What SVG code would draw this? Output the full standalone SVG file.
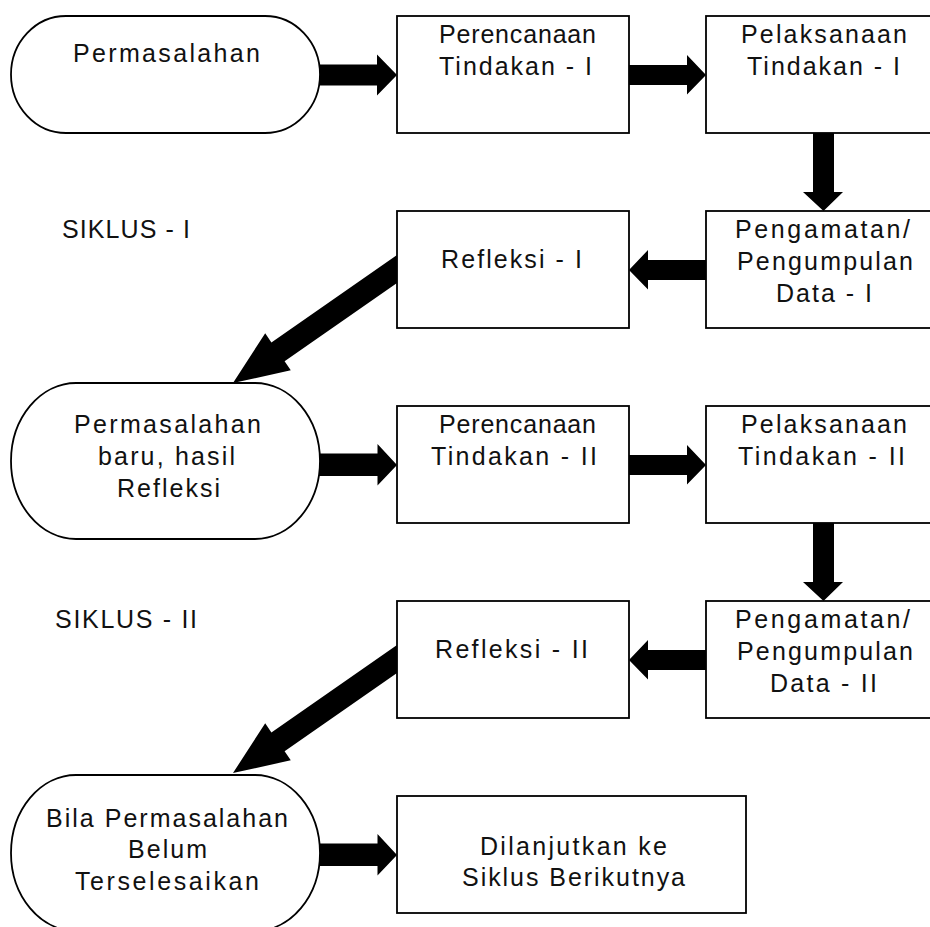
<svg xmlns="http://www.w3.org/2000/svg" width="930" height="927" viewBox="0 0 930 927">
<style>
.n{fill:#fff;stroke:#000;stroke-width:1.8}
.t{font-family:"Liberation Sans",Arial,sans-serif;font-size:25px;fill:#111}
.c{fill:#000;stroke:none}
</style>
<rect width="930" height="927" fill="#fff"/>
<g id="connectors">
<polygon class="c" points="315,64.5 377,64.5 377,54.5 397,75 377,95.5 377,85.5 315,85.5"/>
<polygon class="c" points="625,65 687,65 687,55 706,75 687,94.5 687,85 625,85"/>
<polygon class="c" points="813,130 834,130 834,192 843,192 823.5,211 803,192 813,192"/>
<polygon class="c" points="710,260 648,260 648,250 629,270 648,289.5 648,280 710,280"/>
<polygon class="c" points="397,255 271.4,342.4 265.2,333.3 233,383 290.8,370.3 284.6,361.2 397,283"/>
<polygon class="c" points="315,453.5 377.5,453.5 377.5,444 397,465 377.5,485.5 377.5,476 315,476"/>
<polygon class="c" points="625,455 687,455 687,445 706,465 687,484.5 687,475 625,475"/>
<polygon class="c" points="813,520 834,520 834,582 843,582 823.5,601 803,582 813,582"/>
<polygon class="c" points="710,650 648,650 648,640 629,660 648,679.5 648,670 710,670"/>
<polygon class="c" points="397,645 271.4,732.4 265.2,723.3 233,773 290.8,760.3 284.6,751.2 397,673"/>
<polygon class="c" points="315,843.5 377.5,843.5 377.5,834 397,855 377.5,875.5 377.5,866 315,866"/>
</g>
<g id="permasalahan">
<rect class="n" x="11" y="16" width="309" height="117" rx="55" ry="58.5"/>
<text class="t" x="73" y="62" textLength="187" lengthAdjust="spacing">Permasalahan</text>
</g>
<g id="perencanaan1">
<rect class="n" x="397" y="16" width="232" height="117"/>
<text class="t" x="439" y="43" textLength="157" lengthAdjust="spacing">Perencanaan</text>
<text class="t" x="439" y="75" textLength="153" lengthAdjust="spacing">Tindakan - I</text>
</g>
<g id="pelaksanaan1">
<rect class="n" x="706" y="16" width="232" height="117"/>
<text class="t" x="741" y="43" textLength="166" lengthAdjust="spacing">Pelaksanaan</text>
<text class="t" x="747" y="75" textLength="153" lengthAdjust="spacing">Tindakan - I</text>
</g>
<g id="pengamatan1">
<rect class="n" x="706" y="211" width="232" height="117"/>
<text class="t" x="735" y="238" textLength="175" lengthAdjust="spacing">Pengamatan/</text>
<text class="t" x="737" y="270" textLength="176" lengthAdjust="spacing">Pengumpulan</text>
<text class="t" x="776" y="302" textLength="96" lengthAdjust="spacing">Data - I</text>
</g>
<g id="refleksi1">
<rect class="n" x="397" y="211" width="232" height="117"/>
<text class="t" x="441" y="268" textLength="141" lengthAdjust="spacing">Refleksi - I</text>
</g>
<g id="siklus1">
<text class="t" x="62" y="238" textLength="128" lengthAdjust="spacing">SIKLUS - I</text>
</g>
<g id="permasalahan-baru">
<rect class="n" x="11" y="383" width="309" height="156" rx="65" ry="78"/>
<text class="t" x="74" y="433" textLength="187" lengthAdjust="spacing">Permasalahan</text>
<text class="t" x="98" y="465" textLength="137" lengthAdjust="spacing">baru, hasil</text>
<text class="t" x="117" y="497" textLength="103" lengthAdjust="spacing">Refleksi</text>
</g>
<g id="perencanaan2">
<rect class="n" x="397" y="406" width="232" height="117"/>
<text class="t" x="439" y="433" textLength="157" lengthAdjust="spacing">Perencanaan</text>
<text class="t" x="431" y="465" textLength="166" lengthAdjust="spacing">Tindakan - II</text>
</g>
<g id="pelaksanaan2">
<rect class="n" x="706" y="406" width="232" height="117"/>
<text class="t" x="741" y="433" textLength="166" lengthAdjust="spacing">Pelaksanaan</text>
<text class="t" x="738" y="465" textLength="167" lengthAdjust="spacing">Tindakan - II</text>
</g>
<g id="pengamatan2">
<rect class="n" x="706" y="601" width="232" height="117"/>
<text class="t" x="735" y="628" textLength="175" lengthAdjust="spacing">Pengamatan/</text>
<text class="t" x="737" y="660" textLength="176" lengthAdjust="spacing">Pengumpulan</text>
<text class="t" x="770" y="692" textLength="107" lengthAdjust="spacing">Data - II</text>
</g>
<g id="refleksi2">
<rect class="n" x="397" y="601" width="232" height="117"/>
<text class="t" x="435" y="658" textLength="153" lengthAdjust="spacing">Refleksi - II</text>
</g>
<g id="siklus2">
<text class="t" x="55" y="628" textLength="142" lengthAdjust="spacing">SIKLUS - II</text>
</g>
<g id="bila">
<rect class="n" x="11" y="775" width="309" height="156" rx="65" ry="78"/>
<text class="t" x="46" y="827" textLength="242" lengthAdjust="spacing">Bila Permasalahan</text>
<text class="t" x="128" y="858" textLength="79" lengthAdjust="spacing">Belum</text>
<text class="t" x="75" y="890" textLength="184" lengthAdjust="spacing">Terselesaikan</text>
</g>
<g id="dilanjutkan">
<rect class="n" x="397" y="796" width="349" height="117"/>
<text class="t" x="480" y="855" textLength="187" lengthAdjust="spacing">Dilanjutkan ke</text>
<text class="t" x="462" y="886" textLength="223" lengthAdjust="spacing">Siklus Berikutnya</text>
</g>
</svg>
